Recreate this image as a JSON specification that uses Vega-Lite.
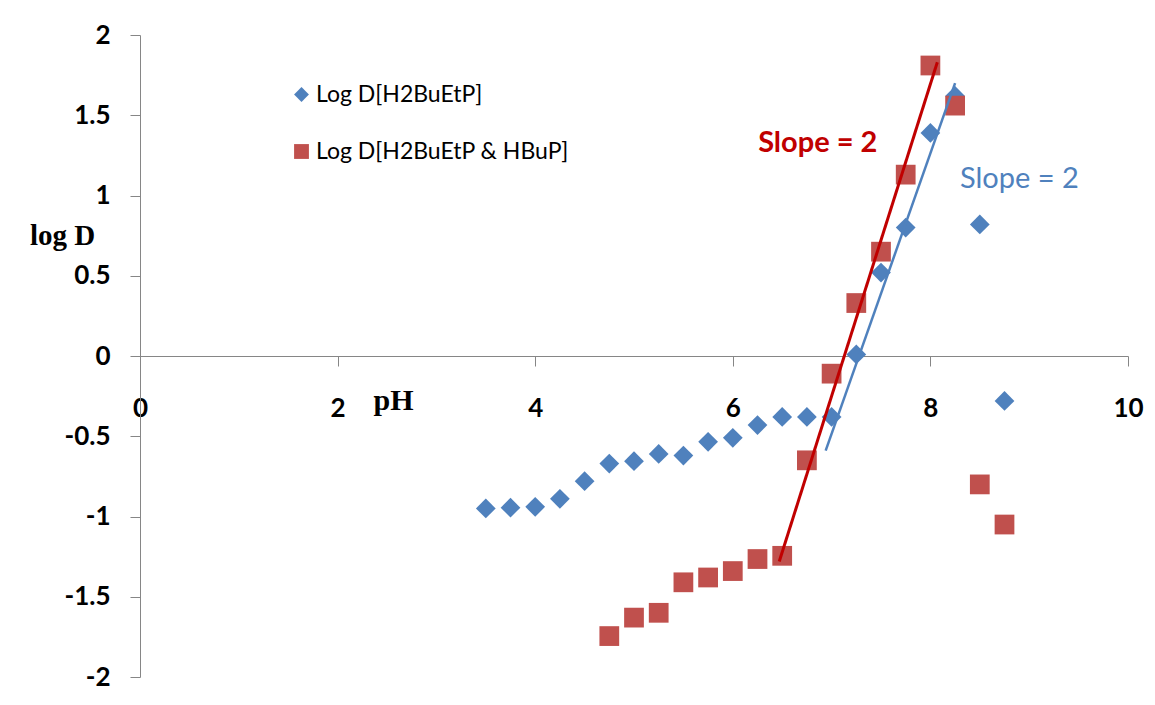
{
  "$schema": "https://vega.github.io/schema/vega-lite/v6.json",
  "autosize": "none",
  "width": 988,
  "height": 642,
  "padding": {"left": 140, "top": 35, "right": 27, "bottom": 28},
  "background": "white",
  "config": {
    "view": {"stroke": null},
    "font": "Lato",
    "axis": {"grid": false, "domainColor": "#868686", "tickColor": "#868686", "domainWidth": 1, "tickWidth": 1, "tickSize": 10, "labelFont": "Lato", "labelFontWeight": "bold", "labelFontSize": 26, "labelColor": "#000000", "labelFlush": false, "labelOverlap": false}
  },
  "datasets": {
    "pts": [
      {"pH": 3.5, "logD": -0.95, "series": "Log D[H2BuEtP]"},
      {"pH": 3.75, "logD": -0.945, "series": "Log D[H2BuEtP]"},
      {"pH": 4.0, "logD": -0.94, "series": "Log D[H2BuEtP]"},
      {"pH": 4.25, "logD": -0.89, "series": "Log D[H2BuEtP]"},
      {"pH": 4.5, "logD": -0.78, "series": "Log D[H2BuEtP]"},
      {"pH": 4.75, "logD": -0.67, "series": "Log D[H2BuEtP]"},
      {"pH": 5.0, "logD": -0.655, "series": "Log D[H2BuEtP]"},
      {"pH": 5.25, "logD": -0.61, "series": "Log D[H2BuEtP]"},
      {"pH": 5.5, "logD": -0.62, "series": "Log D[H2BuEtP]"},
      {"pH": 5.75, "logD": -0.535, "series": "Log D[H2BuEtP]"},
      {"pH": 6.0, "logD": -0.51, "series": "Log D[H2BuEtP]"},
      {"pH": 6.25, "logD": -0.43, "series": "Log D[H2BuEtP]"},
      {"pH": 6.5, "logD": -0.38, "series": "Log D[H2BuEtP]"},
      {"pH": 6.75, "logD": -0.38, "series": "Log D[H2BuEtP]"},
      {"pH": 7.0, "logD": -0.38, "series": "Log D[H2BuEtP]"},
      {"pH": 7.25, "logD": 0.01, "series": "Log D[H2BuEtP]"},
      {"pH": 7.5, "logD": 0.52, "series": "Log D[H2BuEtP]"},
      {"pH": 7.75, "logD": 0.8, "series": "Log D[H2BuEtP]"},
      {"pH": 8.0, "logD": 1.39, "series": "Log D[H2BuEtP]"},
      {"pH": 8.25, "logD": 1.62, "series": "Log D[H2BuEtP]"},
      {"pH": 8.5, "logD": 0.82, "series": "Log D[H2BuEtP]"},
      {"pH": 8.75, "logD": -0.28, "series": "Log D[H2BuEtP]"},
      {"pH": 4.75, "logD": -1.745, "series": "Log D[H2BuEtP & HBuP]"},
      {"pH": 5.0, "logD": -1.63, "series": "Log D[H2BuEtP & HBuP]"},
      {"pH": 5.25, "logD": -1.6, "series": "Log D[H2BuEtP & HBuP]"},
      {"pH": 5.5, "logD": -1.41, "series": "Log D[H2BuEtP & HBuP]"},
      {"pH": 5.75, "logD": -1.38, "series": "Log D[H2BuEtP & HBuP]"},
      {"pH": 6.0, "logD": -1.34, "series": "Log D[H2BuEtP & HBuP]"},
      {"pH": 6.25, "logD": -1.265, "series": "Log D[H2BuEtP & HBuP]"},
      {"pH": 6.5, "logD": -1.245, "series": "Log D[H2BuEtP & HBuP]"},
      {"pH": 6.75, "logD": -0.65, "series": "Log D[H2BuEtP & HBuP]"},
      {"pH": 7.0, "logD": -0.11, "series": "Log D[H2BuEtP & HBuP]"},
      {"pH": 7.25, "logD": 0.33, "series": "Log D[H2BuEtP & HBuP]"},
      {"pH": 7.5, "logD": 0.65, "series": "Log D[H2BuEtP & HBuP]"},
      {"pH": 7.75, "logD": 1.13, "series": "Log D[H2BuEtP & HBuP]"},
      {"pH": 8.0, "logD": 1.81, "series": "Log D[H2BuEtP & HBuP]"},
      {"pH": 8.25, "logD": 1.56, "series": "Log D[H2BuEtP & HBuP]"},
      {"pH": 8.5, "logD": -0.8, "series": "Log D[H2BuEtP & HBuP]"},
      {"pH": 8.75, "logD": -1.05, "series": "Log D[H2BuEtP & HBuP]"}
    ],
    "fits": [
      {"fit": "red", "x1": 6.47, "y1": -1.28, "x2": 8.07, "y2": 1.83},
      {"fit": "blue", "x1": 6.94, "y1": -0.59, "x2": 8.25, "y2": 1.7}
    ],
    "notes": [
      {"fit": "red", "x": 6.86, "y": 1.33, "label": "Slope = 2"},
      {"fit": "blue", "x": 8.9, "y": 1.1, "label": "Slope = 2"}
    ]
  },
  "layer": [
    {
      "data": {"name": "pts"},
      "mark": {"type": "point", "filled": true, "opacity": 1, "size": 390, "strokeWidth": 0},
      "encoding": {
        "x": {"field": "pH", "type": "quantitative", "scale": {"domain": [0, 10], "nice": false, "zero": false},
          "axis": {"orient": "bottom", "offset": -321, "values": [0, 2, 4, 6, 8, 10], "labelPadding": 29, "labelExpr": "'' + datum.value",
            "title": "pH", "titleFont": "Liberation Serif", "titleFontSize": 30, "titleFontWeight": "bold", "titleColor": "#000000", "titleAngle": 0, "titleX": 253, "titleY": 44, "titleAlign": "center", "titleBaseline": "middle"}},
        "y": {"field": "logD", "type": "quantitative", "scale": {"domain": [-2, 2], "nice": false, "zero": false},
          "axis": {"orient": "left", "values": [-2, -1.5, -1, -0.5, 0, 0.5, 1, 1.5, 2], "labelPadding": 20, "labelExpr": "'' + datum.value",
            "title": "log D", "titleFont": "Liberation Serif", "titleFontSize": 29, "titleFontWeight": "bold", "titleColor": "#000000", "titleAngle": 0, "titleX": -78, "titleY": 200, "titleAlign": "center", "titleBaseline": "middle"}},
        "shape": {"field": "series", "type": "nominal", "scale": {"domain": ["Log D[H2BuEtP]", "Log D[H2BuEtP & HBuP]"], "range": ["diamond", "square"]}},
        "color": {"field": "series", "type": "nominal", "scale": {"domain": ["Log D[H2BuEtP]", "Log D[H2BuEtP & HBuP]"], "range": ["#4F81BD", "#C0504D"]},
          "legend": {"title": null, "orient": "none", "legendX": 150, "legendY": 48, "symbolSize": 220, "symbolStrokeWidth": 0, "symbolOpacity": 1, "labelFont": "Lato", "labelFontSize": 23, "labelLimit": 500, "labelColor": "#000000", "rowPadding": 33, "labelOffset": 3}}
      }
    },
    {
      "data": {"name": "fits"},
      "transform": [{"filter": "datum.fit == 'red'"}],
      "mark": {"type": "rule", "color": "#C00000", "strokeWidth": 3},
      "encoding": {
        "x": {"field": "x1", "type": "quantitative"},
        "y": {"field": "y1", "type": "quantitative"},
        "x2": {"field": "x2"},
        "y2": {"field": "y2"}
      }
    },
    {
      "data": {"name": "fits"},
      "transform": [{"filter": "datum.fit == 'blue'"}],
      "mark": {"type": "rule", "color": "#4F81BD", "strokeWidth": 2.5},
      "encoding": {
        "x": {"field": "x1", "type": "quantitative"},
        "y": {"field": "y1", "type": "quantitative"},
        "x2": {"field": "x2"},
        "y2": {"field": "y2"}
      }
    },
    {
      "data": {"name": "notes"},
      "transform": [{"filter": "datum.fit == 'red'"}],
      "mark": {"type": "text", "color": "#C00000", "font": "Lato", "fontSize": 29, "fontWeight": "bold", "align": "center", "baseline": "middle"},
      "encoding": {
        "x": {"field": "x", "type": "quantitative"},
        "y": {"field": "y", "type": "quantitative"},
        "text": {"field": "label"}
      }
    },
    {
      "data": {"name": "notes"},
      "transform": [{"filter": "datum.fit == 'blue'"}],
      "mark": {"type": "text", "color": "#4F81BD", "font": "Lato", "fontSize": 29, "align": "center", "baseline": "middle"},
      "encoding": {
        "x": {"field": "x", "type": "quantitative"},
        "y": {"field": "y", "type": "quantitative"},
        "text": {"field": "label"}
      }
    }
  ]
}
